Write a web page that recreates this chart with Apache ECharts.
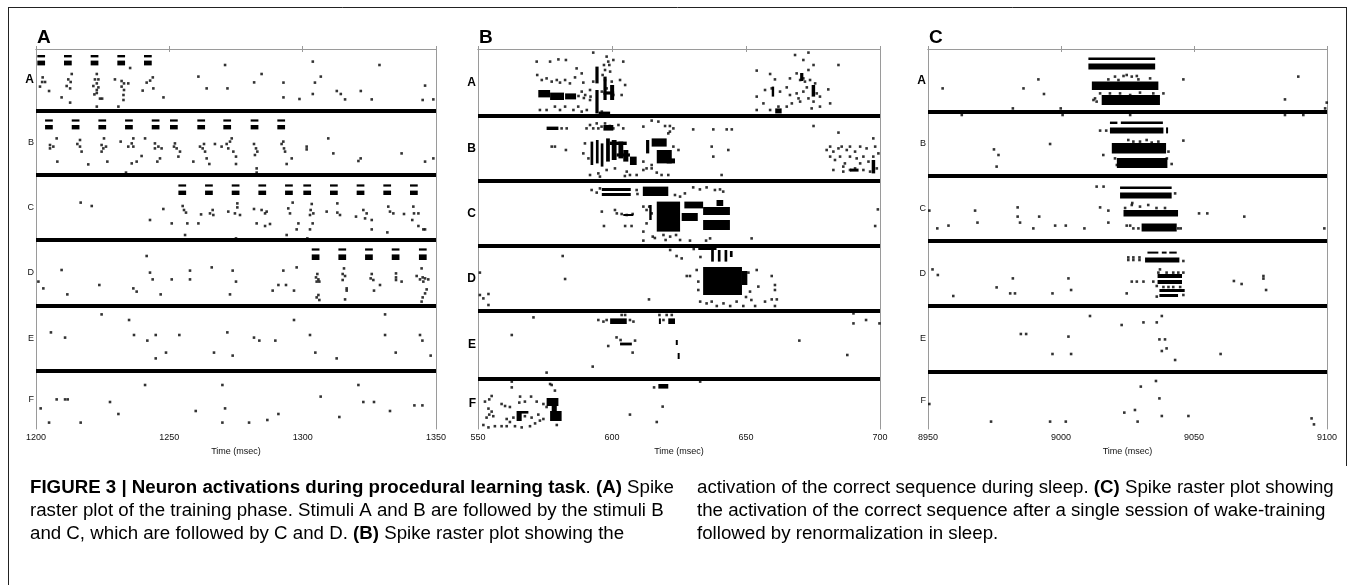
<!DOCTYPE html>
<html><head><meta charset="utf-8">
<script src="https://cdn.jsdelivr.net/npm/echarts/dist/echarts.min.js"></script>
<style>html,body{margin:0;padding:0;background:#fff}#c{width:1354px;height:585px}</style>
</head><body><div id="c"></div>
<script>
// ---------------- DATA ----------------
const groupNames = ['A','B','C','D','E','F'];
const neuronMax = 190;

// Panel A : training phase (1200-1350 ms)
const aRange = [1200, 1350];
const aSeparators = [31, 63, 95.5, 128.5, 161];
const aStimOnsets = {
  A: [1200.5,1210.5,1220.5,1230.5,1240.5],
  B: [1203.4,1213.4,1223.4,1233.4,1243.4,1250.25,1260.5,1270.25,1280.5,1290.5],
  C: [1253.4,1263.4,1273.4,1283.4,1293.4,1300.25,1310.25,1320.25,1330.25,1340.25],
  D: [1303.4,1313.4,1323.4,1333.4,1343.6]
};
const aStimRows = {
  A: [[3,4.2],[5.8,8.2]],
  B: [[35.2,36.3],[38,40.2]],
  C: [[67.7,68.8],[70.8,73]],
  D: [[99.7,100.8],[102.7,105.5]]
};
const aStimDuration = 2.9;
const aSpikes = [
[1202.5,14.2],[1202.3,16.5],[1203.4,16.5],[1201.5,18.8],[1204.9,21],[1209.6,24.2],[1212.8,26.8],
[1213.4,12.5],[1212.1,15.2],[1213,16.5],[1211.5,18.5],[1212.8,19.7],
[1222.8,12.5],[1222.1,15.2],[1223.4,15.2],[1222.8,17.2],[1221.5,18.5],[1223.4,19.2],[1221.9,22.7],[1224,24.8],[1224.8,24.8],[1222.8,28.8],[1222.8,20.5],[1222.8,22],
[1229.6,15.2],[1232.1,16],[1233,17.2],[1234.6,17.2],[1232.1,18.8],[1233,20.5],[1232.8,23],[1232.8,25.5],[1230.9,28.8],[1235.3,9.5],
[1243.8,14.2],[1242.8,15.8],[1241.5,16.8],[1244,19.7],[1240,20.8],[1247.8,24.2],
[1270.9,8],[1260.9,13.8],[1264,19.7],[1271.8,19.7],[1284.6,12.5],[1281.8,16.7],[1292.8,16.8],[1292.8,24.2],[1298.8,25],[1303.8,6.3],[1306.8,13.8],[1304.6,16.8],[1303.8,22.5],[1312.8,21],[1314.3,22.5],[1315.9,25.2],[1321.8,21],[1325.9,25.2],[1328.8,8],[1345.9,18.3],[1345,25.5],[1349,25.2],
[1207.75,44.7],[1205.25,48],[1206.5,48.8],[1205.25,49.7],[1208,56.3],
[1216.5,45.5],[1215.5,47.5],[1216.5,48.8],[1217.1,51.3],[1219.6,57.7],
[1225.5,44.7],[1224.6,48],[1225.25,49.7],[1226.25,48.8],[1224.6,51.3],[1226.75,56.3],
[1231.75,46.3],[1236.5,44.7],[1235.9,47.2],[1234.6,48.8],[1236.5,48.8],[1239.6,53.5],[1235.9,57.2],[1237.75,56.3],[1233.75,61.8],
[1240.9,44.7],[1244.6,47.2],[1244.6,49.7],[1245.9,48.8],[1247.1,49.7],[1246.5,54.7],[1245.5,56.3],
[1252.1,47.2],[1251.75,48.8],[1252.75,49.7],[1254,51.3],[1253.4,53.8],[1259,56.3],
[1261.5,48.8],[1263,47.5],[1262.5,49.7],[1263.4,51.3],[1264,54.7],[1265,57.5],[1267.1,47.5],
[1269.6,48.8],[1271.5,47.5],[1272.75,46.3],[1273.4,44.7],[1272.1,49.7],[1274,51.3],[1275,53.8],[1275,57.5],
[1281.75,47.5],[1282.5,49.7],[1283,51.3],[1282.1,53],[1282.75,59.7],[1282.75,61.8],
[1292.75,46.3],[1292.1,47.5],[1293,49.7],[1293.4,51.3],[1295.9,54.7],[1294,57.5],
[1301.5,48.8],[1301.5,50.2],[1309.6,44.7],[1311.5,52.2],[1320.9,56],[1321.75,54.7],[1337.1,52.2],[1345.9,56.3],[1349,54.7],
[1216.75,76.8],[1220.9,78.5],[1247.75,80],[1255,78.5],[1255.5,80.5],[1256.25,81.8],[1242.75,85.5],[1250.9,87.2],[1256.75,87.2],[1260.9,87.2],[1255.9,93],[1261.9,82.7],[1265.25,82.2],[1266.25,80.5],[1266.5,83],[1272.1,81.3],[1275.5,77.2],[1275.5,79.2],[1274.6,82.2],[1276.5,83],[1275,94.7],[1281.75,80],[1284.6,80.5],[1285.9,82.2],[1286.5,81.3],[1282.75,87.2],[1285.9,88.5],[1287.75,87.5],[1294.6,79.7],[1295.25,82.2],[1296.25,76.8],[1294,93],[1298.4,87.2],[1297.75,90.2],[1303.4,77.5],[1303,80.5],[1302.75,83],[1304,82.2],[1303.75,87.2],[1302.75,90.2],[1301.75,94.7],[1309,81.3],[1313,77.2],[1313,81.8],[1314,83],[1320,83.8],[1322.75,80.5],[1324,82.2],[1323.4,84.7],[1325.9,85.5],[1325.9,90.2],[1332.1,78.8],[1332.75,81.3],[1334,82.2],[1331.75,91.7],[1338,82.5],[1341.5,78.8],[1341.75,82.2],[1343.4,82.2],[1341.1,85.5],[1343.4,88.5],[1345.25,90.2],[1345.9,90.2],
[1241.5,103.5],[1200.9,116.3],[1202.75,119.7],[1209.6,110.5],[1211.75,122.7],[1223.75,118],[1236.5,119.7],[1237.75,121.3],[1242.75,111.8],[1243.75,115.2],[1246.75,122.7],[1250.9,115.2],[1257.75,110.8],[1257.75,115.2],[1265.9,109.2],[1273.75,110.8],[1275,116.3],[1272.75,122.7],[1288.75,120.8],[1290.9,118],[1293.75,118],[1292.75,110.8],[1297.75,109.2],[1296.75,120.8],
[1305.5,112.5],[1305,114.2],[1305.9,115.2],[1305.25,116.3],[1306.25,116.3],[1305.9,123],[1305.25,124.2],[1306.25,125.5],
[1315.5,109.7],[1315,112.5],[1315.9,113.5],[1315,115.5],[1316.5,119.7],[1316.5,120.8],[1315.9,125.2],
[1325.9,112.5],[1325.5,114.7],[1326.5,115.5],[1329,118],[1326.75,120.8],
[1335,112.2],[1335,114.2],[1335,115.5],[1337.1,116.3],
[1344.6,109.7],[1342.75,113.5],[1345,114.2],[1345.9,114.7],[1347.1,115.2],[1345.25,116.3],[1344,115.2],[1346.5,120.2],[1345.9,122.2],[1345,124.2],[1344.6,126.3],
[1224.6,132.7],[1234.9,135.5],[1205.6,141.7],[1210.9,144.3],[1236.75,143],[1241.75,145.8],[1244.9,143],[1244.9,154.7],[1248.75,151.8],[1253.75,143],[1266.75,151.8],[1271.75,141.7],[1273.75,153.3],[1281.75,144.3],[1283.75,145.8],[1289.75,145.8],[1296.75,135.5],[1302.75,143],[1304.75,151.8],[1312.75,154.7],[1330.9,132.7],[1330.9,143],[1334.9,151.8],[1344,143],[1344.9,145.8],[1348,153.3],
[1201.75,179.7],[1204.9,186.8],[1207.75,175.2],[1210.9,175.2],[1211.9,175.2],[1216.75,186.8],[1227.75,176.5],[1230.9,182.5],[1240.9,168],[1259.9,181],[1269.9,168],[1270.9,179.7],[1269.9,186.8],[1279.9,186.8],[1286.75,185.5],[1290.9,182.5],[1306.75,173.8],[1313.75,184],[1320.9,168],[1322.75,176.5],[1326.75,176.5],[1332.75,181],[1341.9,178.2],[1344.9,178.2]
];
const aBursts = [];

// Panel B : replay during sleep (550-700 ms)
const bRange = [550, 700];
const bSeparators = [33.5, 66, 98.5, 131, 165];
const bSpikes = [
[571.9,6.3],[576.9,6.3],[580,5.2],[582.8,5.5],[586.8,9.7],[593,1.8],[598,3.8],[598.6,6.3],[599,8],[600.5,5.5],[604.2,6.3],[597.4,10.5],[597,8],
[572.1,13],[573.8,15.5],[575.6,14.7],[577.5,16.3],[579.4,15.5],[580.6,16.8],[582.5,15.5],[584.3,17.2],[586.2,14.2],[588.7,12.2],[589.3,16.8],[593,16.3],[596.5,13],[597.4,15.5],[599.3,11.3],[599.9,16.3],[603,15.5],[604.9,18],
[588.7,21.3],[590,23],[591.8,20.5],[596.2,21.3],[598,19.7],[600.5,23],[603.6,23],[587.5,23.5],[589.5,24.5],[592,23.8],
[573.1,30.5],[575.6,30.5],[578.7,28.8],[580.6,30.5],[582.5,28.8],[585.6,30.5],[587.4,28.8],[588.7,31.3],[590.6,30.5],[596.2,31.3],[591.8,25.5],
[668.3,3],[673.3,1.8],[671.4,5.5],[675.2,8],[684.5,8],[654,10.8],[659,12.5],[660.8,15.2],[666.4,14.7],[668.9,12.2],[670.2,15.5],[672,16.3],[673.9,15.5],[675.8,17.2],[657.1,20.5],[659.6,19.7],[662.7,21.3],[665.2,19.2],[668.9,22.2],[671.4,21.3],[676.4,22.2],[680.7,20.2],[677.6,23.8],[654,23.8],[656.5,27.2],[659,30.5],[654,30.5],[662.1,28.8],[665.2,28.8],[667.1,27.2],[670.2,26.3],[673.3,24.7],[675.2,26.3],[677.6,28.8],[681.4,27.2],[674.5,29.7],[666.4,23],[669.6,24.7],[672.7,19.2],[673.3,10.5],[671.4,14.7],
[581.2,39.7],[583.1,39.7],[590.5,39.7],[591.8,38],[593,39.7],[594.3,37.2],[594.9,39.7],[596.1,38.8],[597.4,37.2],[598,39.7],[599.2,38.5],[600.5,39.7],[602.4,38],[604.2,39.7],[611.7,38.8],[614.8,35.8],[617.3,36.3],[619.8,38.5],[621.6,38.5],[622.9,39.7],[630.3,40.2],[637.8,40.2],[642.8,40.2],[644.7,40.2],
[577.5,48.8],[578.7,48.8],[582.8,50.5],[589.9,47.2],[589.3,52.2],[591.2,54.7],[611.7,56.3],[612.9,59.7],[614.8,58],[621,42.2],[621.6,41.3],[622.9,48.8],[624.8,50.5],[637.8,53.8],[643.4,50.5],[637.2,48.8],
[591.8,63],[594.9,62.2],[598,60.5],[601.1,59.7],[605.5,61.3],[606.7,63],[609.2,63],[611.7,60.5],[614.8,59.7],[616.7,61.8],[618.5,63],[621,63],[640.9,63],[595.5,63.8],[604.8,63.5],
[680.1,50.5],[681.4,48.8],[682.6,51.3],[684.5,49.7],[685.7,48.8],[687.6,50.5],[688.8,48.8],[690.7,51.3],[692.6,48.8],[695,49.7],[697.5,44.7],[698.2,48.8],[681.4,53.8],[683.2,55.5],[685.1,53.8],[686.9,57.2],[688.8,53.8],[691.3,54.7],[693.8,53.8],[695.7,56.3],[697.5,53.8],[699.4,52.2],[682.6,60.5],[686.3,61.3],[688.8,60.5],[690.7,59.7],[693.8,60.5],[696.3,61.3],[698.8,59.7],[686.3,58.8],[692.6,57.2],[684.5,41.8],[675.2,38.5],
[623.5,73],[625.4,73.8],[627.2,72.2],[630.3,69.2],[632.8,70.2],[635.3,69.2],[638.4,70.5],[640.3,70.2],[641.5,71.3],[592.4,70.5],[594.3,71.8],[595.5,69.7],[609.2,70.5],[609.5,72.5],
[596.2,81.3],[597,88.5],[601.1,80.5],[601.8,82.2],[603.6,82.5],[605.5,83],[607.7,82.5],[604.9,88.5],[607.3,88.5],[611.7,78.8],[612.9,80.5],[613.9,78.8],[614.8,82.2],[612.9,87.2],[611.7,91.3],[611.7,95.8],[615.2,93.8],[619.2,93],[621.7,93.8],[623.9,93],[625.4,95.5],[629.1,95.8],[635.1,95.8],[636.6,94.7],[652.1,94.7],[699.2,80.2],[698.2,88.5],[616,94.5],[620,95.5],
[549.7,117.2],[550.7,111.8],[550.7,123],[552,124.7],[553.9,122.5],[553.9,128],[581.6,103.5],[582.5,115],[613.8,125.2],[621.7,100.5],[624.1,103.5],[626,104.7],[627.9,113.5],[629.1,113.5],[631.6,110.5],[632.2,116.3],[632.2,120.5],[650.9,111.8],[654,110.5],[654.6,118.8],[651.5,121.3],[659.6,113.5],[660.8,118],[660.8,120.5],[659.6,125.2],[657.1,126.3],[653.4,128.5],[649,128.5],[646.5,126.3],[644.1,128.5],[641.6,127.2],[639.1,128.5],[637.2,126.3],[635.3,127.2],[632.9,126.3],[661.5,125.2],[660.8,128.5],[630.5,100],[633,104],[650,124],[652,125.5],
[570.7,134.2],[562.6,143],[601.7,144.2],[603.2,145.5],[608.6,145.8],[607.7,151.8],[598.6,148.5],[592.8,158.8],[575.6,161.8],[594.9,135.5],[596.8,136.3],[598,135.5],[606.7,135.5],[608,136.3],[603.6,133],[604.9,133],[617.7,133],[619.2,135.5],[620.4,133],[622.3,133],[669.9,145.8],[687.8,153],[690.1,132.2],[690.1,137.2],[694.8,135.5],[699.8,137.2],
[562.6,166.3],[562.6,169.2],[576.9,167.5],[577.5,168],[578.7,170.8],[555.1,173.5],[552.6,176.3],[554.2,175.2],[558.8,177.5],[560.1,178.5],[561.9,179],[565.7,173.8],[565.4,176.8],[567.5,176.3],[569.8,173.8],[571.9,176.3],[574.4,177.5],[575.6,179],[553.9,179.8],[555.1,181.3],[555.7,183.6],[554.2,182.8],[553.2,184.3],[560.7,185],[561.9,186.5],[563.2,184.3],[567.5,183.6],[570,184.3],[572.5,182.8],[573.1,185.8],[571.3,187.2],[569.4,188.6],[566.3,189.2],[563.8,188.6],[560.7,188.6],[558.8,188.6],[556.3,188.6],[552,188],[553.9,189.2],[579.4,188],[574.4,185],[618.9,178.8],[606.7,182.8],[616.7,186.5],[615.7,169.2],[632.9,166.3]
];
// dense bursts: [tStart, tEnd, neuronFrom, neuronTo]
const bBursts = [
[572.5,576.9,20.5,24.2],[576.9,582.1,21.8,25.5],[582.5,586.6,22.2,25.2],[593.8,595,8.8,17.2],[593.8,595,20.5,32.2],[595,599.3,31.3,32.5],[596.8,598,13.8,25.5],[599.3,600.8,18,25.5],[596.8,600.8,21.2,22.8],
[660.9,663.3,29.7,32.2],[659.6,660.5,18.8,23.8],[674.5,675.8,18,23.8],[670.2,671.4,12,16],
[575.6,580,38.8,40.5],[596.8,600.5,38,40.8],
[592,593,46.3,58],[594,595,45.5,57.2],[595.8,596.8,47.2,58.8],[597.8,599.2,44.7,56.3],[599.9,601.7,45.5,55.5],[602.4,604.2,46.3,54.7],[604.2,606.1,50.5,56.3],[606.7,609.2,53.8,58],[599.2,605.5,46.3,48],[601.7,606.7,52.2,53.8],
[614.8,620.4,44.7,48.8],[616.7,622.3,50.5,57.2],[612.7,613.9,45.5,52.2],[620.4,623.5,54.7,57.2],
[696.9,698.2,55.5,62.2],[688.8,692,59.8,61.3],
[596.2,607,69.5,71],[596.2,607,72,73.5],[611.5,621,68.8,73.5],
[616.7,625.4,76.3,91.3],[627,634,76.3,79.7],[634,644,79,83],[634,644,85.5,90.5],[626,632,82,86],[639,641.5,75.5,78.5],[604.2,607.9,82.5,83.5],[613.9,614.8,78,85.5],
[632.2,639,98.8,100.5],[637,638,100.5,106.3],[639.5,640.5,100.5,106.3],[642,643,100.5,106.3],[644,645,101,104],
[634,648.5,109,123],[648.5,650.5,111,118],
[599.3,605.5,134.7,137.5],[621,623.5,134.7,137.5],[617.5,618.2,134.7,137.5],[603,607.4,146.8,148.2],[623.8,624.5,145.5,148],[624.5,625.2,152,155],
[575.6,580,174.5,178.5],[576.9,581.2,181,186],[577.5,579.4,178.5,181],[564.4,566.3,181,186],[565.1,568.8,181,182.3],[617.3,621,167.5,169.8]
];

// Panel C : after wake-training + renormalization (8950-9100 ms)
const cRange = [8950, 9100];
const cSeparators = [31.5, 63.5, 96, 128.5, 161.5];
const cSpikes = [
[9038.5,22.2],[9020.3,13.8],[9023.5,13.5],[9024.7,13],[9026.6,13.8],[9028.5,13.5],[9017.8,15.2],[9021.6,15.5],[9033.5,14.7],[9029.1,15.2],[9014.7,22.2],[9018.4,22.2],[9022.2,22.2],[9026,23],[9029.7,21.8],[9034.7,22.2],[9012.8,24.7],[9013.4,26.3],
[8955.5,19.7],[8985.9,19.7],[8991.5,15.2],[8993.6,22.5],[9046,15.2],[9089.2,13.8],[9084.2,25.2],[9099.9,26.8],[9099.3,29.7],[8981.9,29.7],[8999.9,29.7],[9012.2,25.5],
[9014.7,40.8],[9017,40.8],[9025.3,45.5],[9027.2,46.3],[9029.7,46.3],[9032.2,45.5],[9034.1,46.8],[9036.6,46.3],[9021,48.5],[9038.5,49.7],[9040.4,51.3],[9020.3,54.7],[9039.8,54.7],[9041.6,57.5],[9021,58],[8974.8,50.2],[8976.5,53],[8975.8,58.8],[8995.9,47.5],[9015.9,53],[9046,45.8],
[8962.7,33],[9000.6,33],[9026,33],[9084.2,33],[9091.1,33],
[9013.4,68.8],[9016,68.8],[9042.9,72.2],[9024.1,79.5],[9026.6,78],[9029.7,78.8],[9032.8,78],[9035.9,79.5],[9039.1,79.5],[9024.7,88.3],[9026,88.3],[9027.2,89.7],[9029.1,89.7],[9044.1,89.7],[9045,89.7],
[8950.5,80.8],[8967.7,80.8],[8968.6,86.8],[8953.5,89.7],[8957.7,88.3],[8983.7,79.2],[8983.7,83.8],[8984.6,86.8],[8989.6,89.7],[8991.8,83.8],[8997.8,88.3],[9001.8,88.3],[9008.8,89.7],[9014.7,79.2],[9017.8,80.8],[9017.8,86.8],[9026.8,77],[9051.9,82.2],[9055,82.2],[9068.9,83.8],[9099,89.7],
[9025.3,104.2],[9025.3,105.5],[9027.2,104.2],[9027.2,105.5],[9029.5,104.2],[9029.5,105.5],[9046,106],
[9037.2,110.2],[9036.6,111.8],[9039.7,111.8],[9042.2,111.8],[9044.1,111.8],[9046,111.8],[9026.6,116.3],[9028.5,116.3],[9031,116.3],[9034.7,116.3],[9036,118.5],[9038.5,119],[9040.4,119],[9042.2,119],[9044.8,119],[9036,123.8],[9046,123],
[8951.7,110.2],[8953.7,113],[8959.5,123.5],[8975.8,119.2],[8981.9,114.7],[8980.9,122.2],[8982.7,122.2],[8996.8,122.2],[9002.8,114.7],[9003.8,120.5],[9024.7,122.2],[9065,116],[9067.9,117.5],[9076.1,113.5],[9076.1,114.8],[9077.1,120.5],
[9010.9,133.5],[9022.8,138],[9031,136.7],[9036,136.7],[9037.9,133.5],[8984.9,142.5],[8986.9,142.5],[9002.8,143.8],[9037,145.2],[9039.1,145.2],[9037.9,151],[9039.7,149.7],[9042.9,155.5],[8996.8,152.5],[9003.8,152.5],[9060,152.5],
[8950.5,177.5],[8973.7,186.3],[8995.9,186.3],[9001.8,186.3],[9023.8,181.8],[9027.8,180.5],[9028.8,186.3],[9030,168.8],[9035.7,166],[9037,174.7],[9037.9,183.5],[9047.9,183.5],[9094.2,184.7],[9095.1,187.7]
];
const cBursts = [
[9010.3,9035.4,4.3,5.5],[9010.3,9035.4,7.2,10.2],[9011.6,9036.6,16.3,20.5],[9015.3,9037.2,23,28],
[9018.4,9021.2,36.3,37.5],[9022.5,9038.3,36.3,37.5],[9018.4,9038.5,39.2,42.2],[9039.5,9040.2,39.2,42.2],[9019.1,9039.5,47,52.3],[9021,9040,54.5,59.5],
[9022.2,9041.6,68.8,70],[9022.2,9041.6,71.8,74.7],[9023.5,9044,80.5,83.8],[9030.3,9043.5,87.2,91.3],
[9032.5,9036.6,101.3,102.3],[9037.9,9039.7,101.3,102.3],[9040.7,9043.5,101.3,102.3],[9031.6,9044.5,104.2,106.8],[9036.3,9045.5,112.5,114.5],[9036.3,9045.5,115.5,117.5],[9037,9046.5,120,121.5],[9037,9044,122.5,124]
];

const xTicks = 50;
const timeLabel = 'Time (msec)';
const panelLetters = ['A','B','C'];
const captionLeft = [
  [['b','FIGURE 3 | Neuron activations during procedural learning task'],['r','. '],['b','(A)'],['r',' Spike']],
  [['r','raster plot of the training phase. Stimuli A and B are followed by the stimuli B']],
  [['r','and C, which are followed by C and D. '],['b','(B)'],['r',' Spike raster plot showing the']]
];
const captionRight = [
  [['r','activation of the correct sequence during sleep. '],['b','(C)'],['r',' Spike raster plot showing']],
  [['r','the activation of the correct sequence after a single session of wake-training']],
  [['r','followed by renormalization in sleep.']]
];

// ---------------- BUILD ----------------
for (const g of Object.keys(aStimOnsets)) {
  for (const t of aStimOnsets[g]) {
    for (const r of aStimRows[g]) aBursts.push([t, t + aStimDuration, r[0], r[1]]);
  }
}

const layout = [
  {left: 36, width: 400},
  {left: 478, width: 402},
  {left: 928, width: 399}
];
const plotTop = 49, plotHeight = 380;
const panels = [
  {range: aRange, seps: aSeparators, spikes: aSpikes, bursts: aBursts, boldRows: ['A']},
  {range: bRange, seps: bSeparators, spikes: bSpikes, bursts: bBursts, boldRows: groupNames},
  {range: cRange, seps: cSeparators, spikes: cSpikes, bursts: cBursts, boldRows: ['A']}
];
const FONT = "'Liberation Sans', Arial, sans-serif";
const gridColor = '#9a9a9a';

const grids = [], xAxes = [], yAxes = [], series = [];
panels.forEach((p, i) => {
  grids.push({left: layout[i].left, width: layout[i].width, top: plotTop, height: plotHeight, containLabel: false});
  const bounds = [0].concat(p.seps, [neuronMax]);
  const centers = [];
  for (let k = 0; k < bounds.length - 1; k++) centers.push((bounds[k] + bounds[k+1]) / 2);
  xAxes.push({
    type: 'value', gridIndex: i, min: p.range[0], max: p.range[1], interval: xTicks, position: 'bottom',
    axisLine: {show: true, lineStyle: {color: gridColor, width: 1}},
    axisTick: {show: true, inside: true, length: 3, lineStyle: {color: gridColor}},
    axisLabel: {show: true, fontSize: 9, color: '#111', fontFamily: FONT, margin: 4, formatter: v => String(v)},
    splitLine: {show: false},
    name: timeLabel, nameLocation: 'middle', nameGap: 16,
    nameTextStyle: {fontSize: 9, color: '#111', fontFamily: FONT}
  });
  xAxes.push({
    type: 'value', gridIndex: i, min: p.range[0], max: p.range[1], interval: xTicks, position: 'top',
    axisLine: {show: true, lineStyle: {color: gridColor, width: 1}},
    axisTick: {show: true, inside: true, length: 3, lineStyle: {color: gridColor}},
    axisLabel: {show: false}, splitLine: {show: false}
  });
  yAxes.push({
    type: 'value', gridIndex: i, min: 0, max: neuronMax, inverse: true, position: 'left',
    axisLine: {show: true, lineStyle: {color: gridColor, width: 1}},
    axisTick: {show: false}, splitLine: {show: false},
    axisLabel: {
      show: true, margin: 2, customValues: centers,
      formatter: function (v) {
        let idx = 0, best = 1e9;
        centers.forEach((c, k) => { if (Math.abs(c - v) < best) { best = Math.abs(c - v); idx = k; } });
        const name = groupNames[idx];
        return p.boldRows.indexOf(name) >= 0 ? '{b|' + name + '}' : '{n|' + name + '}';
      },
      rich: {
        b: {fontSize: 12, fontWeight: 'bold', color: '#000', fontFamily: FONT},
        n: {fontSize: 9, color: '#111', fontFamily: FONT}
      }
    }
  });
  yAxes.push({
    type: 'value', gridIndex: i, min: 0, max: neuronMax, inverse: true, position: 'right',
    axisLine: {show: true, lineStyle: {color: gridColor, width: 1}},
    axisTick: {show: false}, axisLabel: {show: false}, splitLine: {show: false}
  });
  series.push({
    type: 'scatter', xAxisIndex: 2*i, yAxisIndex: 2*i, data: p.spikes,
    symbol: 'rect', symbolSize: 2.6, itemStyle: {color: '#000'}, silent: true, animation: false,
    markLine: {
      silent: true, symbol: ['none','none'], animation: false,
      label: {show: false}, lineStyle: {color: '#000', width: 4, type: 'solid'},
      emphasis: {disabled: true},
      data: p.seps.map(v => ({yAxis: v}))
    }
  });
  series.push({
    type: 'custom', xAxisIndex: 2*i, yAxisIndex: 2*i, data: p.bursts, silent: true, animation: false, clip: true,
    encode: {x: [0, 1], y: [2, 3]},
    renderItem: function (params, api) {
      const p0 = api.coord([api.value(0), api.value(2)]);
      const p1 = api.coord([api.value(1), api.value(3)]);
      return {type: 'rect', shape: {
        x: Math.min(p0[0], p1[0]), y: Math.min(p0[1], p1[1]),
        width: Math.max(2, Math.abs(p1[0]-p0[0])), height: Math.max(2, Math.abs(p1[1]-p0[1]))
      }, style: {fill: '#000'}};
    }
  });
});

function richLine(parts) {
  return parts.map(pt => '{' + pt[0] + '|' + pt[1] + '}').join('');
}
const capRich = {
  b: {fontSize: 18.7, fontWeight: 'bold', color: '#111', fontFamily: FONT},
  r: {fontSize: 18.7, color: '#222', fontFamily: FONT}
};
const capY = [488, 511, 534];
const graphics = [
  {type: 'line', shape: {x1: 8, y1: 7.5, x2: 1347, y2: 7.5}, style: {stroke: '#222', lineWidth: 1}, silent: true},
  {type: 'line', shape: {x1: 8.5, y1: 7, x2: 8.5, y2: 585}, style: {stroke: '#222', lineWidth: 1}, silent: true},
  {type: 'line', shape: {x1: 1346.5, y1: 7, x2: 1346.5, y2: 466}, style: {stroke: '#222', lineWidth: 1}, silent: true}
];
panelLetters.forEach((L, i) => {
  graphics.push({type: 'text', left: layout[i].left + 1, top: 28, silent: true,
    style: {text: L, fontSize: 19, fontWeight: 'bold', fill: '#000', fontFamily: FONT}});
});
captionLeft.forEach((ln, k) => graphics.push({type: 'text', x: 30, y: capY[k], silent: true,
  style: {text: richLine(ln), rich: capRich, verticalAlign: 'middle', textVerticalAlign: 'middle'}}));
captionRight.forEach((ln, k) => graphics.push({type: 'text', x: 697, y: capY[k], silent: true,
  style: {text: richLine(ln), rich: capRich, verticalAlign: 'middle', textVerticalAlign: 'middle'}}));

const chart = echarts.init(document.getElementById('c'), null, {renderer: 'canvas'});
chart.setOption({
  backgroundColor: '#fff', animation: false,
  grid: grids, xAxis: xAxes, yAxis: yAxes, series: series, graphic: graphics
});
</script></body></html>
